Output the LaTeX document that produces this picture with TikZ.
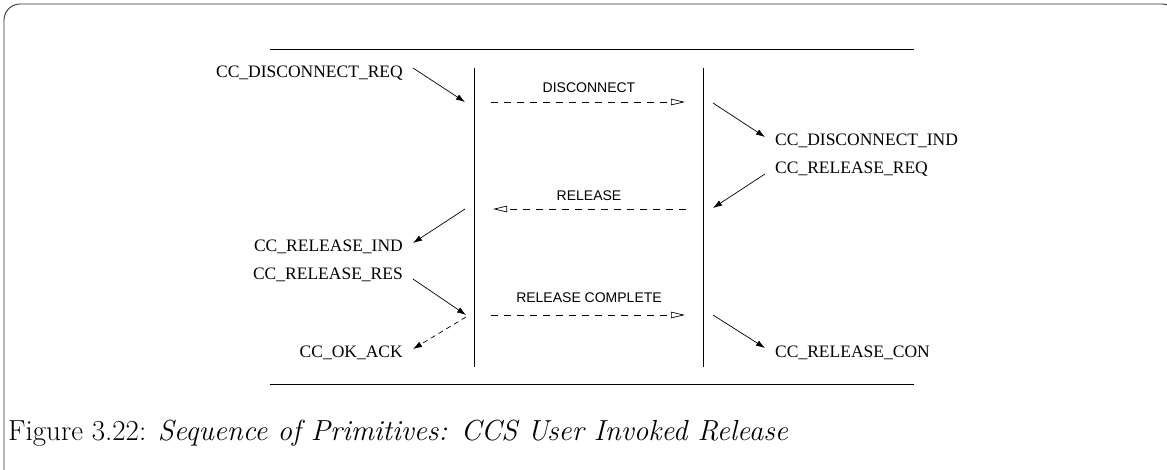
\documentclass[tikz,border=0pt]{standalone}
\usepackage{fontspec}
\newfontfamily\tmsfont{Liberation Serif}
\newfontfamily\hlvfont{Liberation Sans}
\usetikzlibrary{arrows.meta}
\begin{document}
\begin{tikzpicture}[x=1pt,y=-1pt,
  prim/.style={font=\tmsfont\fontsize{17.5}{20}\selectfont, inner sep=0pt},
  msg/.style={font=\hlvfont\fontsize{14}{16}\selectfont, inner sep=0pt},
  life/.style={line width=0.9pt},
  call/.style={line width=0.7pt, -{Latex[length=9pt,width=6pt]}},
  dcall/.style={call, dash pattern=on 5pt off 4pt},
  mline/.style={line width=0.7pt, dash pattern=on 7pt off 6pt, -{Triangle[open,length=14pt,width=6.5pt]}},
  frame/.style={line width=0.9pt, draw=black!80}
]
\useasboundingbox (0,0) rectangle (1167,469);
\draw[frame, rounded corners=16pt] (4,480) -- (4,4) -- (1178,4) -- (1178,480);
% top/bottom rules
\coordinate (tl) at (270,49); \coordinate (tr) at (914,49);
\coordinate (bl) at (270,384); \coordinate (br) at (914,384);
\draw[life] (tl) -- (tr);
\draw[life] (bl) -- (br);
% lifelines
\coordinate (la) at (474,68); \coordinate (lb) at (474,367);
\coordinate (ra) at (703,68); \coordinate (rb) at (703,367);
\draw[life] (la) -- (lb);
\draw[life] (ra) -- (rb);
% messages
\node[msg] (mdisc) at (589,88) {DISCONNECT};
\coordinate (d1) at (491,102); \coordinate (d2) at (685,102);
\draw[mline] (d1) -- (d2);
\node[msg] (mrel) at (589,196) {RELEASE};
\coordinate (r1) at (686,209); \coordinate (r2) at (493,209);
\draw[mline] (r1) -- (r2);
\node[msg] (mrc) at (589,298) {RELEASE COMPLETE};
\coordinate (c1) at (491,315); \coordinate (c2) at (685,315);
\draw[mline] (c1) -- (c2);
% primitives
\node[prim, anchor=east] (dreq) at (403,73) {CC\_DISCONNECT\_REQ};
\node[prim, anchor=west] (dind) at (775,141) {CC\_DISCONNECT\_IND};
\node[prim, anchor=west] (rreq) at (775,169) {CC\_RELEASE\_REQ};
\node[prim, anchor=east] (rind) at (403,247) {CC\_RELEASE\_IND};
\node[prim, anchor=east] (rres) at (403,275) {CC\_RELEASE\_RES};
\node[prim, anchor=east] (okack) at (403,353) {CC\_OK\_ACK};
\node[prim, anchor=west] (rcon) at (775,353) {CC\_RELEASE\_CON};
% primitive arrows
\coordinate (a1s) at (413,68);  \coordinate (a1e) at (465,102);
\coordinate (a2s) at (713,103); \coordinate (a2e) at (765,137);
\coordinate (a3s) at (765,174); \coordinate (a3e) at (713,208);
\coordinate (a4s) at (465,209); \coordinate (a4e) at (413,243);
\coordinate (a5s) at (413,279); \coordinate (a5e) at (466,315);
\coordinate (a6s) at (466,317); \coordinate (a6e) at (413,349);
\coordinate (a7s) at (713,315); \coordinate (a7e) at (765,348);
\draw[call] (a1s) -- (a1e);
\draw[call] (a2s) -- (a2e);
\draw[call] (a3s) -- (a3e);
\draw[call] (a4s) -- (a4e);
\draw[call] (a5s) -- (a5e);
\draw[dcall] (a6s) -- (a6e);
\draw[call] (a7s) -- (a7e);
% caption
\node[anchor=base west, inner sep=0pt, font=\fontsize{29}{33}\selectfont] (cap) at (8,440) {Figure 3.22: \textit{Sequence of Primitives: CCS User Invoked Release}};
\end{tikzpicture}
\end{document}
